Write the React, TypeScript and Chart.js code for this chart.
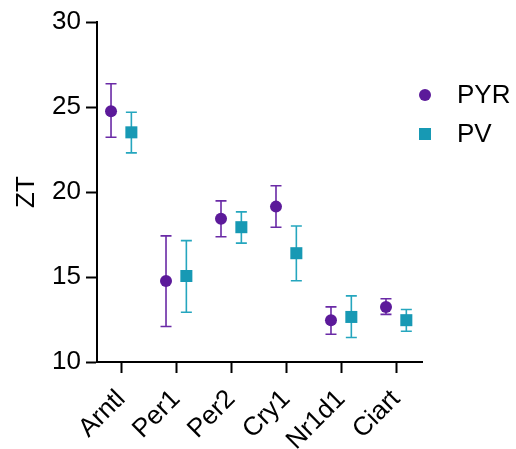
import React, { useEffect, useRef } from "react";
import { Chart, registerables } from "chart.js";

Chart.register(...registerables);

const categories = ["Arntl", "Per1", "Per2", "Cry1", "Nr1d1", "Ciart"];
const seriesNames = ["PYR", "PV"];
const pyrMean = [24.75, 14.76, 18.42, 19.14, 12.46, 13.24];
const pyrUpper = [26.37, 17.42, 19.48, 20.37, 13.24, 13.72];
const pyrLower = [23.22, 12.09, 17.37, 17.93, 11.63, 12.8];
const pvMean = [23.51, 15.06, 17.93, 16.4, 12.65, 12.46];
const pvUpper = [24.69, 17.14, 18.83, 18.0, 13.89, 13.09];
const pvLower = [22.3, 12.93, 16.99, 14.78, 11.44, 11.81];
const yTicks = [10, 15, 20, 25, 30];

const PYR_COLOR = "#5c1a9a";
const PV_COLOR = "#1799b4";
const FONT = "'Liberation Sans', Arial, sans-serif";
const OFFSET = 0.185;

const errorBarPlugin = {
  id: "errorBars",
  beforeDatasetsDraw(chart: any) {
    const { ctx } = chart;
    const xs = chart.scales.x;
    const ys = chart.scales.y;
    chart.data.datasets.forEach((ds: any) => {
      ctx.save();
      ctx.strokeStyle = ds.errColor;
      ctx.lineWidth = 1.6;
      ds.data.forEach((p: any, i: number) => {
        const x = xs.getPixelForValue(p.x);
        const yt = ys.getPixelForValue(ds.upper[i]);
        const yb = ys.getPixelForValue(ds.lower[i]);
        ctx.beginPath();
        ctx.moveTo(x, yt);
        ctx.lineTo(x, yb);
        ctx.moveTo(x - 5.5, yt);
        ctx.lineTo(x + 5.5, yt);
        ctx.moveTo(x - 5.5, yb);
        ctx.lineTo(x + 5.5, yb);
        ctx.stroke();
      });
      ctx.restore();
    });
  },
};

const legendPlugin = {
  id: "customLegend",
  afterDraw(chart: any) {
    const { ctx } = chart;
    ctx.save();
    ctx.font = `26px ${FONT}`;
    ctx.textBaseline = "middle";
    ctx.textAlign = "left";
    ctx.fillStyle = PYR_COLOR;
    ctx.beginPath();
    ctx.arc(425, 95, 6, 0, Math.PI * 2);
    ctx.fill();
    ctx.fillStyle = "#000";
    ctx.fillText(seriesNames[0], 457, 96);
    ctx.fillStyle = PV_COLOR;
    ctx.fillRect(419, 128, 12, 12);
    ctx.fillStyle = "#000";
    ctx.fillText(seriesNames[1], 457, 135);
    ctx.restore();
  },
};

export default function App() {
  const ref = useRef<HTMLCanvasElement>(null);
  useEffect(() => {
    const chart = new Chart(ref.current!, {
      type: "scatter",
      data: {
        datasets: [
          {
            label: seriesNames[0],
            data: pyrMean.map((v, i) => ({ x: i - OFFSET, y: v })),
            upper: pyrUpper,
            lower: pyrLower,
            errColor: "#6a2aa6",
            backgroundColor: PYR_COLOR,
            borderColor: PYR_COLOR,
            pointStyle: "circle",
            pointRadius: 6,
            borderWidth: 0,
          } as any,
          {
            label: seriesNames[1],
            data: pvMean.map((v, i) => ({ x: i + OFFSET, y: v })),
            upper: pvUpper,
            lower: pvLower,
            errColor: "#25a6be",
            backgroundColor: PV_COLOR,
            borderColor: PV_COLOR,
            pointStyle: "rect",
            pointRadius: 8.5,
            borderWidth: 0,
          } as any,
        ],
      },
      options: {
        animation: false,
        responsive: true,
        maintainAspectRatio: false,
        layout: { padding: { top: 22, right: 94, left: 0, bottom: 0 } },
        plugins: { legend: { display: false }, tooltip: { enabled: false } },
        scales: {
          x: {
            type: "linear",
            min: -0.44,
            max: 5.47,
            afterBuildTicks: (axis: any) => {
              axis.ticks = categories.map((_, i) => ({ value: i }));
            },
            afterFit: (axis: any) => {
              axis.height = 87;
            },
            ticks: {
              callback: (v: any) => categories[Math.round(v)] ?? "",
              autoSkip: false,
              maxRotation: 45,
              minRotation: 45,
              color: "#000",
              padding: 11,
              font: { family: FONT, size: 26 },
            },
            grid: {
              drawOnChartArea: false,
              drawTicks: true,
              tickLength: 11,
              tickColor: "#000",
              tickWidth: 2,
            },
            border: { color: "#000", width: 2 },
          },
          y: {
            min: 10,
            max: 30,
            afterBuildTicks: (axis: any) => {
              axis.ticks = yTicks.map((v) => ({ value: v }));
            },
            afterFit: (axis: any) => {
              axis.width = 97;
            },
            ticks: {
              color: "#000",
              padding: 5,
              font: { family: FONT, size: 26 },
            },
            grid: {
              drawOnChartArea: false,
              drawTicks: true,
              tickLength: 11,
              tickColor: "#000",
              tickWidth: 2,
            },
            border: { color: "#000", width: 2 },
            title: {
              display: true,
              text: "ZT",
              color: "#000",
              font: { family: FONT, size: 26 },
              padding: { top: 11, bottom: 0 },
            },
          },
        },
      },
      plugins: [errorBarPlugin, legendPlugin],
    } as any);
    return () => chart.destroy();
  }, []);
  return (
    <div style={{ position: "fixed", left: 0, top: 0, width: 516, height: 449, background: "#fff" }}>
      <canvas ref={ref} />
    </div>
  );
}
